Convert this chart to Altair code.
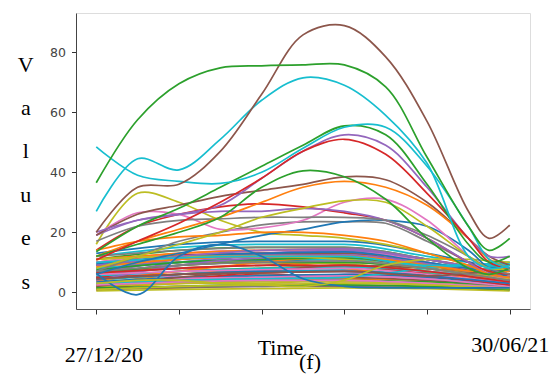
import altair as alt
import pandas as pd

# x grid positions (0 = 27/12/20, 5 = 30/06/21)
X_FINE = [0, 0.5, 1, 1.5, 2, 2.5, 3, 3.5, 4, 4.5, 4.75, 5]
X_COARSE = [0, 1, 2, 3, 4, 5]
X_TICKS = [0, 1, 2, 3, 4, 5]
Y_TICKS = [0, 20, 40, 60, 80]
TAB10 = ["#1f77b4", "#ff7f0e", "#2ca02c", "#d62728", "#9467bd",
         "#8c564b", "#e377c2", "#7f7f7f", "#bcbd22", "#17becf"]

# background mass of series (values on X_COARSE), colour cycles through TAB10
bulk = [
    [5, 9, 11, 12, 9, 7],
    [3, 6, 8, 9, 7, 3],
    [11, 14, 15, 15, 11, 6],
    [2, 4, 6, 5, 3, 6],
    [8, 12, 13, 14, 10, 5],
    [6, 8, 9, 10, 8, 4],
    [1, 2, 2.5, 3, 2.5, 1],
    [9, 11, 12, 12, 9, 6],
    [4, 3, 3, 5, 8, 10],
    [12, 15, 16, 16, 12, 8],
    [7, 10, 10.5, 11, 8, 3],
    [1.5, 3, 4, 4.5, 4, 2],
    [5, 7, 8, 8.5, 6.5, 9],
    [10, 12.5, 13, 12.5, 6, 3],
    [6, 11, 12.5, 13, 11, 6],
    [3, 4, 4.5, 5, 4, 2],
    [7, 5, 4, 6, 7, 3.5],
    [2, 4, 5, 5.5, 4.5, 2],
    [9, 10, 10, 9.5, 7, 4],
    [4, 6, 7, 7.5, 6, 9],
    [13, 16, 17, 17, 13, 7],
    [6, 9, 10, 8, 5, 7],
    [2.5, 3.5, 4, 4, 3.5, 2],
    [8, 10, 11, 11.5, 9, 5],
    [5, 10, 12, 13.5, 10, 5],
    [1, 1.5, 2, 2, 1.5, 0.8],
    [10, 13, 14, 14, 10, 5],
    [5, 8, 6, 4, 3, 2],
    [0.5, 1, 1.2, 1.5, 1.2, 0.5],
    [8, 10, 11, 11, 8.5, 9],
    [3.5, 5, 5.5, 6, 5, 2.5],
    [11, 13, 14, 14.5, 11, 6],
    [6.5, 9, 10, 10, 8, 4],
    [1, 4, 7, 9, 6, 3],
    [7, 11, 13, 14, 11, 5],
    [9, 12, 13, 13, 9.5, 5],
    [3, 4.5, 5, 5.5, 4.5, 2],
    [12, 14, 15, 15, 11, 6],
    [2, 3, 3.5, 3.5, 3, 1.5],
    [5.5, 7, 8, 8.5, 7, 3.5],
    [9.5, 12, 13, 13.5, 10, 6],
    [4, 7, 10, 12, 9, 3],
    [7.5, 10, 11, 11.5, 9, 5],
    [5, 6, 6.5, 7, 5.5, 2.5],
    [4, 9, 11.5, 12.5, 9.5, 4],
    [2, 5, 7, 9, 8, 4],
    [6, 7, 7.5, 8, 6, 3],
    [1, 1.8, 2, 2.2, 2, 1],
    [11, 12, 12, 11, 8, 4.5],
    [3, 4, 4.5, 5, 8, 10],
    [4.5, 6, 7, 7, 5.5, 3],
    [8.5, 11, 12, 12, 9, 5],
    [1.5, 2, 2.5, 2.5, 2, 1],
    [6.5, 8, 9, 9, 7, 3.5],
    [9, 12, 14, 14.5, 11, 6],
    [4.5, 6, 6.5, 7, 5.5, 8],
    [2.5, 3.5, 4, 4, 3, 1.5],
    [7, 9, 10, 10.5, 8, 4],
    [1, 2, 2.5, 3, 2.5, 1.2],
    [10, 11.5, 12, 12, 9, 9.5],
]

# prominent series (values on X_FINE) and their colour index
prom_colors = [8, 0, 8, 7, 0, 6, 3, 4, 1, 7, 8, 5, 1, 2, 4, 3, 2, 9, 9, 5, 2]
prom = [
    [16, 33, 30, 24, 20, 19, 18, 16, 13, 9, 7, 6],
    [6.3, -0.8, 12, 16, 12, 4.5, 2, 1.5, 1.5, 1.5, 1.5, 1.5],
    [3, 4, 4, 3, 2.5, 2, 4, 9, 11, 11, 10.5, 10],
    [7, 12, 17, 20, 22.5, 23.5, 23.5, 23, 17, 10, 6, 5],
    [6, 10, 13, 16, 19, 21, 23.5, 24, 22, 14, 8, 5],
    [19, 26.5, 26, 21, 21.5, 24, 30, 31, 24, 12, 6, 5],
    [14, 22, 26, 28.5, 29.5, 28.5, 26.5, 24, 18, 10, 7, 6],
    [19, 24, 26, 27, 27, 28, 27, 24, 18, 10, 6, 5],
    [14, 17, 18.5, 19, 20, 20, 19, 17, 13, 9, 6, 5],
    [17, 22, 24, 24.5, 25, 25, 25, 24, 19, 12, 8, 6],
    [8, 12, 16, 20, 25, 28, 30.5, 30, 22, 12, 8, 8],
    [19, 26, 29, 32, 34, 36, 38.5, 37.5, 30, 18, 12, 9],
    [12, 17, 21, 25, 30, 35, 37, 35, 29, 18, 11, 8],
    [12, 16, 20, 25, 35, 40.5, 38.5, 31, 18, 8, 6, 8],
    [20, 24, 26, 29, 38, 47, 52.5, 49, 35, 18, 12, 12],
    [10.8, 17, 23, 30, 38, 47, 51, 46, 33, 18, 10, 8],
    [13.5, 22, 28, 35, 42, 49, 55.5, 52.5, 36, 16, 10, 12],
    [48.5, 39, 37, 36.3, 40, 48, 55, 55, 42, 22, 11, 8],
    [27, 44.5, 40.8, 51, 64, 71.5, 69, 59, 43, 12, 8, 9],
    [20, 35, 36, 47, 66, 85.8, 88.9, 78.5, 57, 27, 18, 22.4],
    [36.5, 57.5, 69.5, 74.8, 75.5, 75.8, 75.8, 68.5, 45, 22, 14, 18],
]

rows_bulk = []
for i, vals in enumerate(bulk):
    for x, y in zip(X_COARSE, vals):
        rows_bulk.append({"s": i, "x": x, "y": y, "c": i % 10})
rows_prom = []
for j, (c, vals) in enumerate(zip(prom_colors, prom)):
    for x, y in zip(X_FINE, vals):
        rows_prom.append({"s": 100 + j, "x": x, "y": y, "c": c})
df_bulk = pd.DataFrame(rows_bulk)
df_prom = pd.DataFrame(rows_prom)

serif = "Liberation Serif"

x_enc = alt.X(
    "x:Q",
    scale=alt.Scale(domain=[-0.245, 5.245], nice=False, zero=False),
    axis=alt.Axis(
        values=X_TICKS,
        labelExpr="datum.value == 0 ? '27/12/20' : (datum.value == 5 ? '30/06/21' : '')",
        grid=False, tickSize=5, tickColor="#333", domainColor="#555",
        labelFont=serif, labelFontSize=22, labelColor="black",
        labelBaseline="middle", labelAlign="center",
        labelPadding={"condition": {"test": "datum.value == 0", "value": 40}, "value": 30},
        labelOffset={"condition": {"test": "datum.value == 0", "value": 7}, "value": 0},
        labelOverlap=False, labelBound=False, labelFlush=False,
        title="Time", titleFont=serif, titleFontSize=22, titleFontWeight="normal",
        titleColor="black", titleX=204, titleY=45, titleAlign="center",
        titleBaseline="alphabetic",
    ),
)
y_enc = alt.Y(
    "y:Q",
    scale=alt.Scale(domain=[-5.57, 93.1], nice=False, zero=False),
    axis=alt.Axis(
        values=Y_TICKS, grid=False, tickSize=4.5, tickColor="#333",
        domainColor="#444", labelFont="DejaVu Sans", labelFontSize=12.5,
        labelColor="#444", labelPadding=6,
        title=["V", "a", "l", "u", "e", "s"], titleAngle=0,
        titleLineHeight=43.4, titleFont=serif, titleFontSize=22,
        titleFontWeight="normal", titleColor="black",
        titleX=-50.7, titleY=51, titleAlign="center", titleBaseline="middle",
    ),
)
c_enc = alt.Color("c:N", scale=alt.Scale(domain=list(range(10)), range=TAB10), legend=None)

bulk_lines = alt.Chart(df_bulk).mark_line(
    interpolate="monotone", strokeWidth=1.7
).encode(x=x_enc, y=y_enc, color=c_enc, detail="s:N", order=alt.Order("x:Q"))

prom_lines = alt.Chart(df_prom).mark_line(
    interpolate="catmull-rom", strokeWidth=1.7
).encode(x=x_enc, y=y_enc, color=c_enc, detail="s:N", order=alt.Order("x:Q"))

chart = alt.layer(bulk_lines, prom_lines).properties(
    width=454, height=296,
    autosize=alt.AutoSizeParams(type="none"),
    padding={"left": 76, "top": 13, "right": 20, "bottom": 70},
    title=alt.TitleParams(
        text="(f)", orient="bottom", font=serif, fontSize=22,
        fontWeight="normal", color="black", anchor="middle", dx=7, dy=-17,
    ),
).configure_view(stroke="#666", strokeWidth=1.2).configure(background="white")

chart.save("out.html", embed_options={"renderer": "svg", "actions": False})
